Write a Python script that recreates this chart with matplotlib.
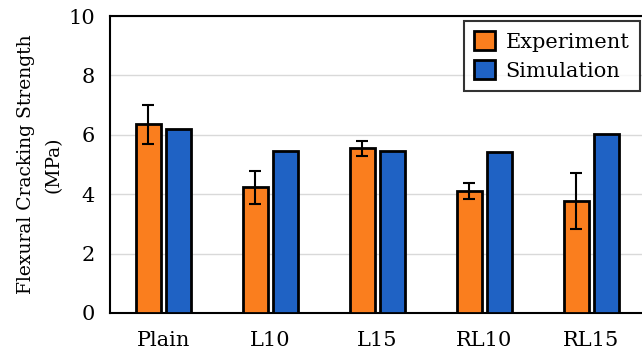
import matplotlib.pyplot as plt
import numpy as np

categories = ['Plain', 'L10', 'L15', 'RL10', 'RL15']
experiment = [6.35, 4.23, 5.54, 4.11, 3.78]
experiment_err = [0.65, 0.56, 0.24, 0.27, 0.94]
simulation = [6.18, 5.46, 5.44, 5.42, 6.02]

plt.rcParams['font.family'] = ['DejaVu Serif']

fig = plt.figure(figsize=(6.42, 3.59), dpi=100)
ax = fig.add_axes([110/642, 1 - 313/359, 535/642, 297/359])

x = np.arange(len(categories))
w = 0.234
ax.bar(x - 0.143, experiment, w, yerr=experiment_err, color='#FA7E1E',
       edgecolor='black', linewidth=2, label='Experiment', zorder=3,
       error_kw=dict(ecolor='black', elinewidth=1.5, capsize=4, capthick=1.5))
ax.bar(x + 0.143, simulation, w, color='#1F62C4', edgecolor='black',
       linewidth=2, label='Simulation', zorder=3)

ax.set_xlim(-0.5, 4.5)
ax.set_ylim(0, 10)
ax.set_yticks([0, 2, 4, 6, 8, 10])
ax.set_xticks(x)
ax.set_xticklabels(categories)
ax.tick_params(length=0, labelsize=15)
ax.tick_params(axis='x', pad=13)
ax.tick_params(axis='y', pad=11)
ax.yaxis.grid(True, color='#d9d9d9', linewidth=1, zorder=0)
ax.set_axisbelow(True)
for s in ax.spines.values():
    s.set_linewidth(1.5)
    s.set_color('black')
ax.spines['right'].set_visible(False)

ax.set_ylabel('Flexural Cracking Strength\n(MPa)', fontsize=13.5, labelpad=4,
              linespacing=1.65)

leg = ax.legend(loc='upper right', bbox_to_anchor=(530/535, 1.0 - 5/297),
                fontsize=15, frameon=True, fancybox=False, handlelength=1.0,
                handleheight=1.0, handletextpad=0.5, borderpad=0.5,
                labelspacing=0.4, borderaxespad=0)
leg.get_frame().set_edgecolor('black')
leg.get_frame().set_linewidth(1.5)

fig.savefig('out.png', dpi=100)
